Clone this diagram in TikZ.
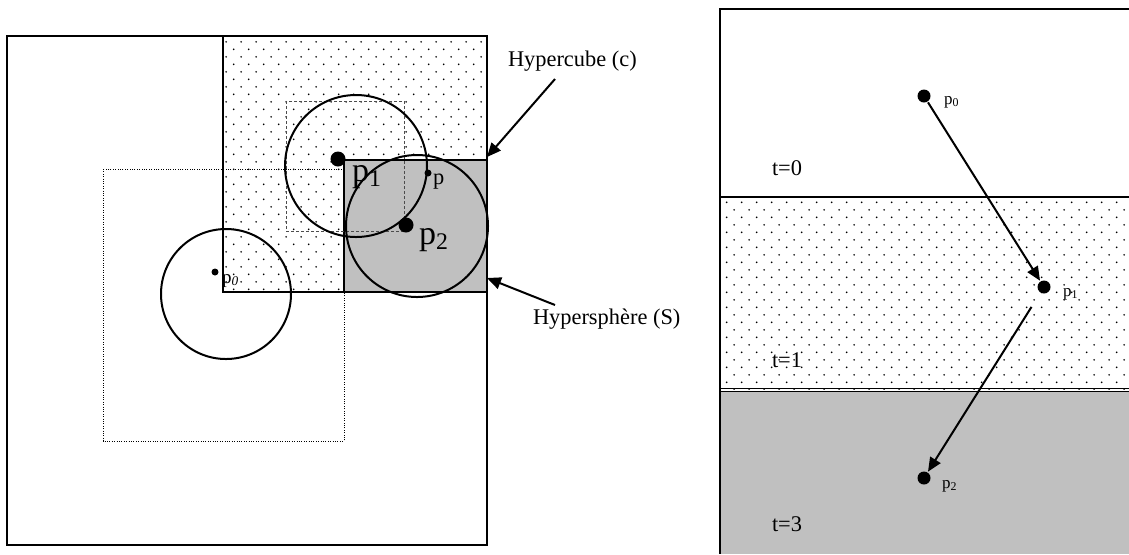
\documentclass[tikz,border=0pt]{standalone}
\usepackage{fontspec}
\setmainfont{Liberation Serif}
\usetikzlibrary{patterns,arrows.meta}

\tikzset{
pattern size/.store in=\mcSize, 
pattern size = 7.7pt,
pattern radius/.store in=\mcRadius, 
pattern radius = 0.5pt}
\pgfdeclarepatternformonly[\mcRadius,\mcSize]{mcdots}
{\pgfqpoint{0pt}{0pt}}
{\pgfpoint{\mcSize}{\mcSize}}
{\pgfpoint{\mcSize}{\mcSize}}
{
\pgfpathcircle{\pgfpoint{0.25*\mcSize}{0.25*\mcSize}}{\mcRadius}
\pgfpathcircle{\pgfpoint{0.75*\mcSize}{0.75*\mcSize}}{\mcRadius}
\pgfusepath{fill}
}
\tikzset{every picture/.style={line width=1pt}}
\tikzset{
dotfill/.style={pattern=mcdots, pattern color=black},
greyfill/.style={fill={rgb, 255:red, 192; green, 192; blue, 192 }},
frame/.style={line width=1.1pt},
fineline/.style={line width=0.5pt, dash pattern=on 0.5pt off 0.7pt},
dashline/.style={line width=0.35pt, dash pattern=on 1.5pt off 1pt, color=black!70},
bigdot/.style={circle, fill=black, inner sep=0pt, minimum size=7.5pt},
middot/.style={circle, fill=black, inner sep=0pt, minimum size=6.5pt},
smalldot/.style={circle, fill=black, inner sep=0pt, minimum size=3.5pt},
lbl/.style={inner sep=0pt, anchor=base west, font=\fontsize{11.2}{13}\selectfont},
biglbl/.style={inner sep=0pt, anchor=base west, font=\fontsize{17}{20}\selectfont},
smalllbl/.style={inner sep=0pt, anchor=base west, font=\fontsize{8.5}{10}\selectfont},
pointer/.style={-{Triangle[length=7pt,width=6pt]}}
}

\begin{document}
\begin{tikzpicture}[x=0.5pt,y=0.5pt,yscale=-1,xscale=1]
\useasboundingbox (0,0) rectangle (1129,554);

%Shape: Rectangle (hypercube, dotted) 
\fill [dotfill] (223,36) rectangle (487,292);
%Shape: Square (grey part) 
\fill [greyfill] (344,160) rectangle (487,292);
%Shape: Rectangle (outer square) 
\draw [frame] (7,36) rectangle (487,545);
%Straight Lines 
\draw [frame] (223,36) -- (223,292) -- (487,292);
\draw [frame] (344,292) -- (344,160) -- (487,160);
%Shape: Rectangle (dotted) 
\draw [fineline] (103,169) rectangle (344,441);
%Shape: Rectangle (dashed) 
\draw [dashline] (286,101) rectangle (404,231);
%Shape: Circle 
\draw (226,294) circle [radius=65];
\draw (356,166) circle [radius=71];
\draw (417,226) circle [radius=71];

% Points
\node [smalldot] (p0) at (215,272) {};
\node [bigdot] (p1) at (338,159) {};
\node [smalldot] (p) at (428,173) {};
\node [bigdot] (p2) at (406,225) {};

% Text Node
\node [lbl, font=\fontsize{9.5}{11}\selectfont] (p0lbl) at (221,283) {p\textsubscript{\itshape 0}};
% Text Node
\node [biglbl] (p1lbl) at (351,181) {p\textsubscript{1}};
% Text Node
\node [lbl] (plbl) at (432,184) {p};
% Text Node
\node [biglbl] (p2lbl) at (418,244) {p\textsubscript{2}};
% Text Node
\node [lbl] (hclbl) at (507,66) {Hypercube (c)};
% Text Node
\node [lbl] (hslbl) at (532,324) {Hypersphère (S)};

%Straight Lines (arrows to the labels) 
\coordinate (hcstart) at (555,79);
\coordinate (hctip) at (487,157);
\draw [pointer] (hcstart) -- (hctip);
\coordinate (hsstart) at (555,305);
\coordinate (hstip) at (487,278);
\draw [pointer] (hsstart) -- (hstip);

%Shape: Rectangle (t=1, dotted) 
\fill [dotfill] (720,197) rectangle (1129,389);
%Shape: Rectangle (t=3, grey) 
\fill [greyfill] (720,391) rectangle (1129,554);
%Straight Lines 
\draw [frame] (1129,9) -- (720,9) -- (720,554);
\draw (720,197) -- (1129,197);
\draw [line width=0.75pt] (720,388.5) -- (1129,388.5);
\draw [line width=0.75pt] (720,391.5) -- (1129,391.5);

% Points
\node [middot] (q0) at (924,96) {};
\node [middot] (q1) at (1044,287) {};
\node [middot] (q2) at (924,478) {};
\draw [pointer] (q0) -- (q1);
\draw [pointer, shorten <=8pt] (q1) -- (q2);

% Text Node
\node [smalllbl] (q0lbl) at (943,104) {p\textsubscript{0}};
% Text Node
\node [smalllbl] (q1lbl) at (1062,296) {p\textsubscript{1}};
% Text Node
\node [smalllbl] (q2lbl) at (941,488) {p\textsubscript{2}};
% Text Node
\node [lbl] (t0) at (771,175) {t=0};
% Text Node
\node [lbl] (t1) at (771,367) {t=1};
% Text Node
\node [lbl] (t3) at (771,531) {t=3};

\end{tikzpicture}
\end{document}
